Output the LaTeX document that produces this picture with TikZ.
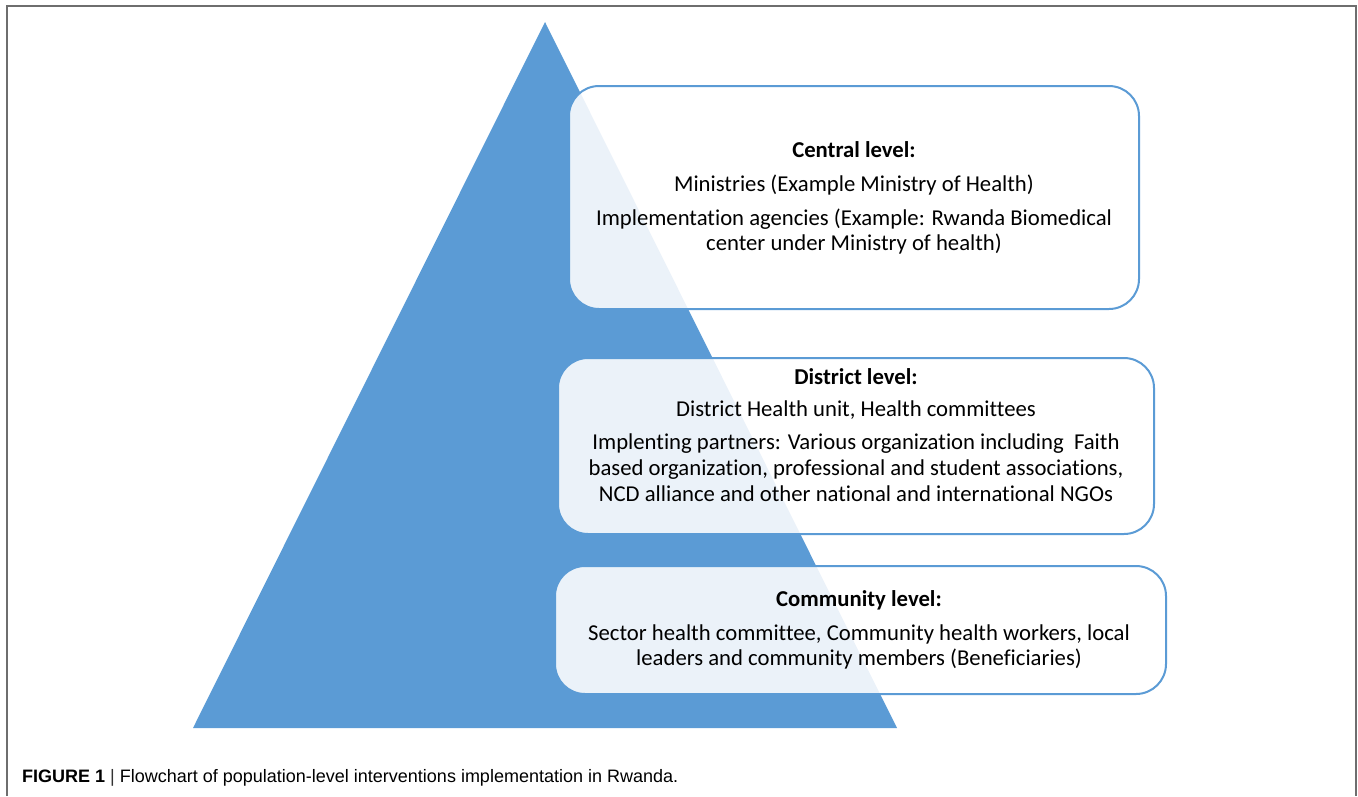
\documentclass[tikz,border=0pt]{standalone}
\usepackage{fontspec}
\setmainfont[Ligatures=NoCommon]{Carlito}
\newfontfamily\capfont{Liberation Sans}
\definecolor{triblue}{HTML}{5B9BD5}
\definecolor{framegray}{HTML}{6E6E6E}
\tikzset{
  levelbox/.style={draw=triblue, line width=2pt, fill=white, fill opacity=0.88, text opacity=1, rounded corners=30pt, inner sep=0pt},
  leveltext/.style={align=center, font=\fontsize{22.7}{25.5}\selectfont, inner sep=0pt, text=black},
}
\begin{document}
\begin{tikzpicture}[x=1pt,y=-1pt]
\useasboundingbox (0,0) rectangle (1358,796);
% frame (open at bottom)
\draw[framegray, line width=2pt] (7,796) -- (7,6) -- (1356,6) -- (1356,796);
% pyramid
\coordinate (apex) at (545,22);
\coordinate (bl) at (193,728);
\coordinate (br) at (897,728);
\fill[triblue] (apex) -- (br) -- (bl) -- cycle;
% boxes
\draw[levelbox] (569,86) rectangle (1139,309);
\draw[levelbox] (558,358) rectangle (1154,534);
\draw[levelbox] (555,566) rectangle (1166,694);
% texts
\node[leveltext] (central) at (854,198) {\textbf{Central level:}\\[8.5pt]
Ministries (Example Ministry of Health)\\[8.5pt]
Implementation agencies (Example: Rwanda Biomedical\\
center under Ministry of health)};
\node[leveltext] (district) at (856,435) {\textbf{District level:}\\[6.5pt]
District Health unit, Health committees\\[7pt]
Implenting partners: Various organization including\ \ Faith\\[1pt]
based organization, professional and student associations,\\
NCD alliance and other national and international NGOs};
\node[leveltext] (community) at (859,630) {\textbf{Community level:}\\[8.5pt]
Sector health committee, Community health workers, local\\
leaders and community members (Beneficiaries)};
% caption
\node[anchor=west, inner sep=0pt, font=\capfont\fontsize{18}{21}\selectfont] (caption) at (22,778)
 {\textbf{FIGURE 1} {\color{black!80}|} Flowchart of population-level interventions implementation in Rwanda.};
\end{tikzpicture}
\end{document}
